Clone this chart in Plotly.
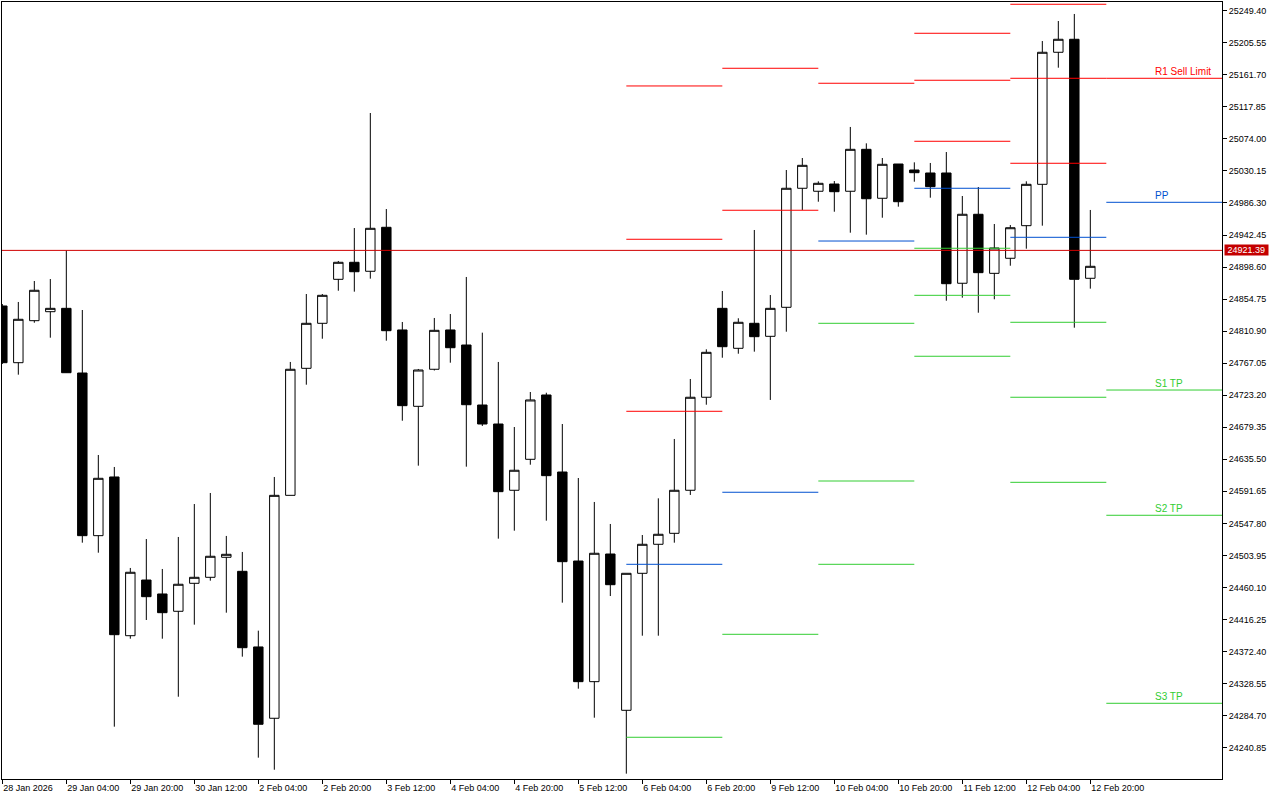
import plotly.graph_objects as go

# ---------------- data (H4 bars, 28 Jan 2026 12:00 .. 12 Feb 2026 20:00) ----------------
bar_index = list(range(69))

open_ = [24845.3, 24767.7, 24825.2, 24837.5, 24842.1, 24753.6, 24531.0, 24611.3, 24394.1, 24470.3,
         24451.2, 24427.5, 24465.8, 24474.0, 24501.4, 24482.2, 24378.7, 24281.1, 24586.2, 24760.0,
         24821.6, 24881.8, 24905.1, 24892.8, 24953.0, 24812.5, 24708.0, 24758.7, 24812.5, 24791.9,
         24709.8, 24683.8, 24593.1, 24635.5, 24723.5, 24618.1, 24496.3, 24331.2, 24505.9, 24292.0,
         24479.5, 24519.2, 24534.2, 24593.1, 24720.4, 24842.1, 24787.4, 24821.6, 24803.8, 24843.5,
         25006.4, 25002.3, 25012.2, 25002.3, 25059.7, 24992.7, 25039.6, 25031.4, 25027.3, 25027.3,
         24876.4, 24970.8, 24890.0, 24910.6, 24955.2, 25011.8, 25192.5, 25210.3, 24883.2]
high = [24848.0, 24850.8, 24879.5, 24882.2, 24921.4, 24839.8, 24641.4, 24625.0, 24486.8, 24526.4,
        24485.4, 24529.2, 24574.3, 24589.4, 24530.6, 24508.7, 24401.0, 24611.3, 24768.7, 24861.7,
        24861.7, 24906.9, 24952.0, 25109.4, 24978.0, 24823.4, 24759.1, 24828.9, 24834.3, 24885.0,
        24808.8, 24768.7, 24679.7, 24727.6, 24726.6, 24683.8, 24609.9, 24577.1, 24547.0, 24479.5,
        24531.9, 24582.1, 24663.3, 24745.4, 24786.0, 24865.8, 24828.5, 24949.3, 24860.3, 25031.4,
        25047.8, 25015.9, 25016.3, 25090.3, 25067.9, 25047.8, 25039.6, 25041.9, 25041.0, 25056.0,
        24995.8, 25008.1, 24957.5, 24956.1, 25015.9, 25207.9, 25235.3, 25244.9, 24976.7]
low = [24765.9, 24751.3, 24822.4, 24801.9, 24753.6, 24521.4, 24507.7, 24269.6, 24390.0, 24415.6,
       24390.0, 24310.6, 24409.2, 24469.4, 24425.6, 24365.4, 24227.2, 24210.7, 24586.2, 24737.6,
       24800.5, 24866.2, 24864.9, 24882.7, 24797.8, 24688.3, 24626.8, 24757.0, 24767.7, 24625.4,
       24681.1, 24526.9, 24537.8, 24628.1, 24551.5, 24439.3, 24321.6, 24281.9, 24448.4, 24205.3,
       24394.1, 24394.1, 24521.4, 24586.7, 24710.2, 24774.5, 24780.0, 24782.8, 24716.7, 24810.1,
       24976.7, 24988.0, 24974.3, 24945.6, 24942.9, 24966.1, 24981.2, 25015.4, 24993.5, 24852.5,
       24856.7, 24836.1, 24854.5, 24900.4, 24923.7, 24955.2, 25171.4, 24815.6, 24869.0]
close = [24767.7, 24827.1, 24866.8, 24842.1, 24754.0, 24531.0, 24609.5, 24395.5, 24480.9, 24447.5,
         24425.6, 24464.5, 24474.0, 24502.8, 24505.5, 24377.7, 24272.9, 24586.2, 24758.7, 24821.6,
         24859.9, 24905.1, 24892.2, 24951.6, 24811.5, 24708.9, 24757.7, 24812.0, 24788.2, 24710.2,
         24683.8, 24591.2, 24620.5, 24716.7, 24613.1, 24495.4, 24331.2, 24506.9, 24463.9, 24479.5,
         24519.2, 24532.9, 24593.1, 24720.4, 24781.9, 24789.6, 24823.0, 24803.3, 24842.1, 25006.4,
         25037.8, 25013.2, 25001.7, 25059.7, 24992.1, 25039.2, 24988.0, 25027.7, 25008.6, 24875.8,
         24970.8, 24890.9, 24924.7, 24952.4, 25011.8, 25192.5, 25210.3, 24881.8, 24899.6]

# x-axis time labels (every 4th bar)
tick_bars = [0, 4, 8, 12, 16, 20, 24, 28, 32, 36, 40, 44, 48, 52, 56, 60, 64, 68]
tick_labels = ['28 Jan 2026', '29 Jan 04:00', '29 Jan 20:00', '30 Jan 12:00', '2 Feb 04:00',
               '2 Feb 20:00', '3 Feb 12:00', '4 Feb 04:00', '4 Feb 20:00', '5 Feb 12:00',
               '6 Feb 04:00', '6 Feb 20:00', '9 Feb 12:00', '10 Feb 04:00', '10 Feb 20:00',
               '11 Feb 12:00', '12 Feb 04:00', '12 Feb 20:00']

# price scale labels
price_ticks = [25249.40, 25205.55, 25161.70, 25117.85, 25074.00, 25030.15, 24986.30, 24942.45,
               24898.60, 24854.75, 24810.90, 24767.05, 24723.20, 24679.35, 24635.50, 24591.65,
               24547.80, 24503.95, 24460.10, 24416.25, 24372.40, 24328.55, 24284.70, 24240.85]

# daily pivot levels (day starts at bar index)
pivot_days = ['6 Feb', '9 Feb', '10 Feb', '11 Feb', '12 Feb', '13 Feb']
pivot_start_bar = [39, 45, 51, 57, 63, 69]
R3 = [25146.4, None, None, 25218.5, 25258.2, None]
R2 = [24936.6, 25170.6, None, 25154.2, 25156.9, None]
R1 = [24701.2, 24976.3, 25150.1, 25070.7, 25040.6, 25156.9]
PP = [24491.8, 24590.4, 24934.2, 25006.4, 24939.3, 24987.2]
S1 = [24255.1, 24396.0, 24821.6, 24924.3, 24823.0, 24730.3]
S2 = [None, None, 24605.8, 24859.9, 24720.4, 24558.9]
S3 = [None, None, 24491.8, 24776.5, 24604.0, 24301.6]

level_labels = ['R1 Sell Limit', 'PP', 'S1 TP', 'S2 TP', 'S3 TP']
label_bar = 72

current_price = 24921.39

# ---------------- styling ----------------
X_RANGE = [-0.02, 76.23]
Y_RANGE = [24198.0, 25261.3]
RED = '#ff0000'
BLUE = '#0050d0'
GREEN = '#32cd32'
FONT = 'Liberation Sans'

fig = go.Figure()

fig.add_trace(go.Candlestick(
    x=bar_index, open=open_, high=high, low=low, close=close,
    increasing=dict(fillcolor='white', line=dict(color='black', width=1)),
    decreasing=dict(fillcolor='black', line=dict(color='black', width=1)),
    whiskerwidth=0, hoverinfo='skip', showlegend=False,
))

def segments(levels):
    xs, ys = [], []
    for i, v in enumerate(levels):
        if v is None:
            continue
        x0 = pivot_start_bar[i]
        x1 = pivot_start_bar[i + 1] if i + 1 < len(pivot_start_bar) else X_RANGE[1] + 1
        xs += [x0, x1, None]
        ys += [v, v, None]
    return xs, ys

for levels, color in [(R3, RED), (R2, RED), (R1, RED), (PP, BLUE), (S1, GREEN), (S2, GREEN), (S3, GREEN)]:
    xs, ys = segments(levels)
    fig.add_trace(go.Scatter(x=xs, y=ys, mode='lines', line=dict(color=color, width=1),
                             hoverinfo='skip', showlegend=False, cliponaxis=True))

# current price line
fig.add_shape(type='line', xref='paper', x0=0, x1=1, yref='y', y0=current_price, y1=current_price,
              line=dict(color='#d00000', width=1), layer='above')

# level labels on the current day
last_levels = [R1[-1], PP[-1], S1[-1], S2[-1], S3[-1]]
label_colors = [RED, BLUE, GREEN, GREEN, GREEN]
for txt, v, col in zip(level_labels, last_levels, label_colors):
    fig.add_annotation(x=label_bar, y=v, xref='x', yref='y', text=txt, showarrow=False,
                       xanchor='left', yanchor='bottom', xshift=-1, yshift=-1,
                       font=dict(family=FONT, size=10, color=col))

# price tag
fig.add_annotation(x=1, xref='paper', y=current_price, yref='y', text='\u00a0%.2f\u00a0' % current_price,
                   showarrow=False, xanchor='left', yanchor='middle', xshift=2,
                   bgcolor='#c40000', borderpad=0, font=dict(family=FONT, size=9, color='white'))

fig.update_layout(
    width=1280, height=800,
    margin=dict(l=2, r=58, t=2, b=21),
    paper_bgcolor='white', plot_bgcolor='white',
    showlegend=False,
    boxgap=0.41, boxgroupgap=0,
    font=dict(family=FONT, size=9, color='black'),
    hovermode=False,
)
fig.update_xaxes(
    range=X_RANGE, tickmode='array', tickvals=tick_bars, ticktext=tick_labels,
    ticks='outside', ticklen=4, tickcolor='black', tickwidth=1,
    ticklabelposition='outside right',
    showgrid=False, zeroline=False, showline=True, linecolor='black', linewidth=1, mirror=True,
    rangeslider=dict(visible=False), tickfont=dict(family=FONT, size=9, color='black'),
)
fig.update_yaxes(
    range=Y_RANGE, side='right', tickmode='array', tickvals=price_ticks, tickformat='.2f',
    ticks='outside', ticklen=4, tickcolor='black', tickwidth=1,
    showgrid=False, zeroline=False, showline=True, linecolor='black', linewidth=1, mirror=True,
    tickfont=dict(family=FONT, size=9, color='black'),
)

fig.write_html('out.html', config={'displayModeBar': False},
               post_script="document.body.style.margin='0';document.body.style.overflow='hidden';")
